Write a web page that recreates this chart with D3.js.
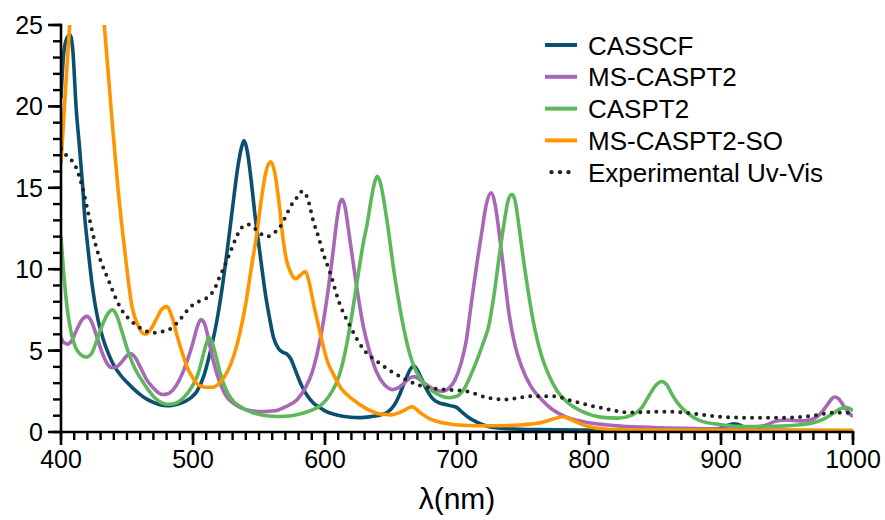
<!DOCTYPE html>
<html>
<head>
<meta charset="utf-8">
<script src="https://cdn.jsdelivr.net/npm/d3@7"></script>
<style>
  html, body { margin: 0; padding: 0; background: #fff; }
  svg { display: block; }
  svg text { font-family: "Liberation Sans", Arial, Helvetica, sans-serif; }
</style>
</head>
<body>
<svg id="chart" width="885" height="520"></svg>
<script>
// ---- data (wavelength nm, intensity) ----
const casscf = [[400,20.5],[402,23.2],[404.5,24.2],[406.8,24.4],[409,23.4],[411.4,20.0],[414,17.5],[416.4,15.1],[418,13.2],[420,11.6],[424,8.8],[428,6.9],[432,5.7],[436,4.8],[440,4.1],[445,3.5],[450,3.05],[455,2.65],[460,2.3],[465,2.02],[470,1.82],[475,1.68],[480,1.62],[485,1.65],[490,1.75],[495,1.92],[498,2.08],[503,2.5],[508,3.4],[513,4.9],[518,6.8],[522,8.8],[526,11.2],[530,13.8],[534,16.3],[536.5,17.4],[538.6,17.9],[541,17.3],[544,15.5],[547,13.3],[551,10.8],[555,8.4],[558,7.0],[561,5.8],[565,5.1],[568,4.9],[571,4.8],[574,4.5],[578,3.7],[582,2.9],[586,2.3],[591,1.8],[596,1.5],[601,1.25],[609,1.05],[618,0.92],[626,0.88],[635,0.95],[642,1.05],[647,1.2],[652,1.6],[656,2.2],[659,2.8],[662,3.4],[665,3.9],[667.4,4.05],[670,3.8],[673,3.3],[677,2.6],[681,2.1],[686,1.8],[692,1.68],[697,1.58],[700,1.5],[704,1.2],[708,0.94],[715,0.6],[723,0.35],[735,0.22],[760,0.15],[800,0.12],[880,0.1],[898,0.2],[910,0.5],[920,0.25],[935,0.1],[1000,0.08]];

const msCaspt2 = [[400,5.8],[402,5.5],[405,5.4],[408,5.6],[412,6.3],[416,6.9],[419.7,7.1],[423,6.8],[427,5.9],[431,4.9],[435,4.2],[438.6,3.95],[442,4.0],[446,4.3],[450,4.7],[453,4.8],[456,4.6],[460,4.0],[465,3.2],[470,2.7],[474,2.4],[477,2.3],[481,2.35],[485,2.6],[489,3.1],[493,3.8],[497,4.7],[500,5.5],[503,6.4],[506,6.9],[509,6.6],[512,5.6],[515,4.5],[518,3.6],[522,2.7],[526,2.1],[530,1.8],[536,1.5],[543,1.32],[553,1.25],[562,1.3],[570,1.55],[579,2.0],[585,2.7],[590,3.6],[594,4.8],[598,6.4],[602,8.5],[606,11.0],[609,13.0],[611,14.0],[613,14.3],[615,13.9],[618,12.3],[621,10.6],[625,8.4],[629,6.5],[634,4.9],[639,3.7],[644,3.0],[648,2.7],[651,2.6],[655,2.7],[660,3.0],[664,3.3],[668,3.4],[672,3.2],[677,2.9],[683,2.6],[689,2.5],[694,2.7],[698.5,3.2],[703,4.2],[707,5.6],[711,8.0],[715,10.3],[719,12.4],[722,13.9],[725.8,14.7],[729,13.9],[732.6,11.8],[736,9.5],[739,7.5],[744,5.3],[749,4.0],[756,2.8],[764,2.0],[772,1.4],[782,0.95],[795,0.65],[812,0.45],[840,0.3],[870,0.22],[900,0.18],[920,0.25],[935,0.45],[942,0.68],[950,0.74],[960,0.68],[968,0.75],[975,1.1],[980,1.6],[984,2.05],[986,2.15],[989,2.05],[993,1.6],[997,1.15],[1000,0.95]];

const caspt2 = [[400,12.0],[402,9.8],[405,7.4],[408,6.0],[411,5.2],[415,4.75],[419,4.6],[423,4.8],[427,5.6],[431,6.5],[435,7.2],[439,7.5],[442,7.2],[446,6.2],[451,4.9],[456,3.9],[461,3.2],[466,2.6],[471,2.1],[476,1.8],[480,1.7],[485,1.72],[490,1.9],[495,2.3],[500,2.9],[504,3.6],[507,4.5],[510,5.4],[512,5.8],[514,5.6],[517,4.8],[520,3.8],[523,3.0],[527,2.3],[531,1.85],[536,1.55],[543,1.25],[552,1.05],[560,0.97],[566,0.95],[575,1.0],[583,1.15],[591,1.37],[597,1.65],[603,2.2],[608,2.9],[612,3.8],[616,5.2],[621,7.5],[625,9.6],[629,11.6],[632,12.8],[635,14.3],[637.5,15.3],[639.5,15.7],[642,15.3],[645,14.0],[648,12.4],[652,10.0],[657,7.5],[662,5.5],[667,4.1],[673,3.2],[680,2.6],[687,2.25],[694,2.1],[700,2.2],[705,2.6],[711,3.6],[716,4.6],[720,5.5],[724,6.5],[728,8.4],[732,10.8],[736,13.0],[739,14.3],[741.7,14.6],[744,14.2],[747,12.6],[750,10.8],[754,8.6],[759,6.3],[764,4.7],[769,3.6],[776,2.5],[784,1.8],[795,1.25],[810,0.9],[822,0.85],[833,1.05],[840,1.5],[846,2.3],[851,2.9],[855,3.1],[859,2.9],[863,2.3],[867,1.8],[874,1.2],[884,0.7],[900,0.45],[920,0.33],[940,0.35],[960,0.45],[970,0.57],[978,0.8],[985,1.15],[991,1.45],[995.5,1.5],[1000,1.3]];

const msCaspt2So = [[400,16.5],[403,20.5],[407,25.5],[412,30],[418,33],[424,32],[429,28],[433,24.8],[438,19.8],[443,15.1],[448.5,11.0],[453.8,7.7],[458,6.6],[463.6,6.0],[468,6.3],[472,6.9],[476,7.5],[480,7.7],[484,7.1],[488,5.9],[491.7,4.9],[496,3.9],[500,3.3],[504,2.9],[509,2.75],[514.6,2.75],[520,3.0],[526,3.7],[531,4.7],[535.6,6.1],[540,7.9],[544,10.0],[548,12.0],[552,14.4],[555,15.9],[558.9,16.6],[562,15.9],[565,14.2],[568,12.0],[571,10.5],[574,9.8],[578,9.4],[581,9.6],[585,9.85],[588,9.2],[591,8.0],[594,6.9],[598,5.5],[602,4.3],[606,3.6],[612,2.7],[621,2.0],[630,1.5],[641.7,1.1],[650,1.05],[658,1.25],[666,1.55],[672,1.2],[679.5,0.8],[690,0.55],[707.6,0.4],[730,0.38],[750,0.45],[765,0.6],[773,0.8],[780,0.94],[787,0.75],[795,0.45],[804.5,0.25],[820,0.15],[850,0.12],[1000,0.1]];

const experimental = [[400,17.4],[405,16.9],[410.6,16.4],[416,15.1],[420.5,13.5],[424,12.2],[428,11.0],[432,10.1],[435.6,9.4],[440,8.5],[446,7.5],[452,6.9],[458,6.5],[464,6.2],[471,6.1],[478,6.2],[484,6.4],[490,6.9],[496,7.5],[501.5,7.9],[507,8.1],[513,8.4],[517,8.9],[520,9.5],[524,10.2],[528,11.0],[532,11.8],[535.6,12.4],[539,12.7],[542,12.75],[546,12.55],[550.8,12.2],[556,12.0],[561,12.2],[566,12.6],[570,13.2],[573.5,13.8],[578.8,14.4],[583,14.8],[587,14.3],[591,13.0],[595,12.0],[598.5,11.0],[603.8,9.8],[611,7.9],[619,6.5],[629,5.1],[641.7,4.2],[657,3.4],[674,2.8],[692,2.6],[707,2.5],[723,2.1],[736,2.0],[757,2.2],[772,2.2],[789,1.87],[808,1.5],[831,1.2],[859,1.25],[871,1.2],[897,0.95],[922,0.88],[950,0.88],[970,1.0],[985,1.19],[1000,1.19]];

const seriesNames = ["CASSCF", "MS-CASPT2", "CASPT2", "MS-CASPT2-SO", "Experimental Uv-Vis"];
const seriesColors = ["#0b5070", "#a867b7", "#5cb85b", "#ff9500", "#222222"];
const seriesData = [casscf, msCaspt2, caspt2, msCaspt2So, experimental];

const xMajorTicks = [400, 500, 600, 700, 800, 900, 1000];
const yMajorTicks = [0, 5, 10, 15, 20, 25];
const xLabel = "λ(nm)";

// ---- layout ----
const svg = d3.select("#chart");
const x = d3.scaleLinear().domain([400, 1000]).range([61, 853]);
const y = d3.scaleLinear().domain([0, 25]).range([432, 25]);

svg.append("defs").append("clipPath").attr("id", "plotClip")
  .append("rect").attr("x", 61).attr("y", 25).attr("width", 792).attr("height", 407);

const line = d3.line().x(d => x(d[0])).y(d => y(d[1])).curve(d3.curveMonotoneX);

const plot = svg.append("g").attr("clip-path", "url(#plotClip)");
seriesData.forEach((data, i) => {
  const p = plot.append("path").datum(data)
    .attr("d", line)
    .attr("fill", "none")
    .attr("stroke", seriesColors[i]);
  if (i === 4) {
    p.attr("stroke-width", 4).attr("stroke-dasharray", "0 8").attr("stroke-linecap", "round");
  } else {
    p.attr("stroke-width", 3.6).attr("stroke-linejoin", "round");
  }
});

// ---- axes (drawn from scales) ----
const minorX = d3.range(400, 1001, 10);
const minorY = d3.range(0, 26, 1);
const axes = svg.append("g");
const x0 = x(400), y0 = y(0);

axes.selectAll("line.xminor").data(minorX).join("line").attr("class", "xminor")
  .attr("x1", d => x(d)).attr("x2", d => x(d))
  .attr("y1", y0).attr("y2", y0 + 8)
  .attr("stroke", "#000").attr("stroke-width", 2.4);
axes.selectAll("line.xmajor").data(xMajorTicks).join("line").attr("class", "xmajor")
  .attr("x1", d => x(d)).attr("x2", d => x(d))
  .attr("y1", y0).attr("y2", y0 + 13)
  .attr("stroke", "#000").attr("stroke-width", 2.6);
axes.selectAll("text.xlab").data(xMajorTicks).join("text").attr("class", "xlab")
  .attr("x", d => x(d)).attr("y", y0 + 36)
  .attr("text-anchor", "middle").attr("font-size", 25).attr("fill", "#000")
  .text(d => d3.format("d")(d));

axes.selectAll("line.yminor").data(minorY).join("line").attr("class", "yminor")
  .attr("y1", d => y(d)).attr("y2", d => y(d))
  .attr("x1", x0).attr("x2", x0 - 8)
  .attr("stroke", "#000").attr("stroke-width", 2.4);
axes.selectAll("line.ymajor").data(yMajorTicks).join("line").attr("class", "ymajor")
  .attr("y1", d => y(d)).attr("y2", d => y(d))
  .attr("x1", x0).attr("x2", x0 - 13)
  .attr("stroke", "#000").attr("stroke-width", 2.6);
axes.selectAll("text.ylab").data(yMajorTicks).join("text").attr("class", "ylab")
  .attr("x", x0 - 18).attr("y", d => y(d) + 9)
  .attr("text-anchor", "end").attr("font-size", 25).attr("fill", "#000")
  .text(d => d3.format("d")(d));

axes.append("line").attr("x1", x0 - 1.3).attr("x2", x(1000) + 1.3).attr("y1", y0).attr("y2", y0)
  .attr("stroke", "#000").attr("stroke-width", 2.6);
axes.append("line").attr("x1", x0).attr("x2", x0).attr("y1", y(25) - 1.3).attr("y2", y0 + 1.3)
  .attr("stroke", "#000").attr("stroke-width", 2.6);

svg.append("text")
  .attr("x", 457).attr("y", 509)
  .attr("text-anchor", "middle")
  .attr("font-size", 30)
  .attr("fill", "#000")
  .text(xLabel);

// ---- legend ----
const legend = svg.append("g");
seriesNames.forEach((name, i) => {
  const cy = 45 + i * 31.8;
  if (i === 4) {
    [551.5, 560, 568.5].forEach(cx => {
      legend.append("circle").attr("cx", cx).attr("cy", cy).attr("r", 2.1).attr("fill", seriesColors[i]);
    });
  } else {
    legend.append("line").attr("x1", 545).attr("x2", 577).attr("y1", cy).attr("y2", cy)
      .attr("stroke", seriesColors[i]).attr("stroke-width", 4);
  }
  legend.append("text").attr("x", 588).attr("y", cy + 9.5)
    .attr("font-size", 26).attr("fill", "#000").text(name);
});
</script>
</body>
</html>
